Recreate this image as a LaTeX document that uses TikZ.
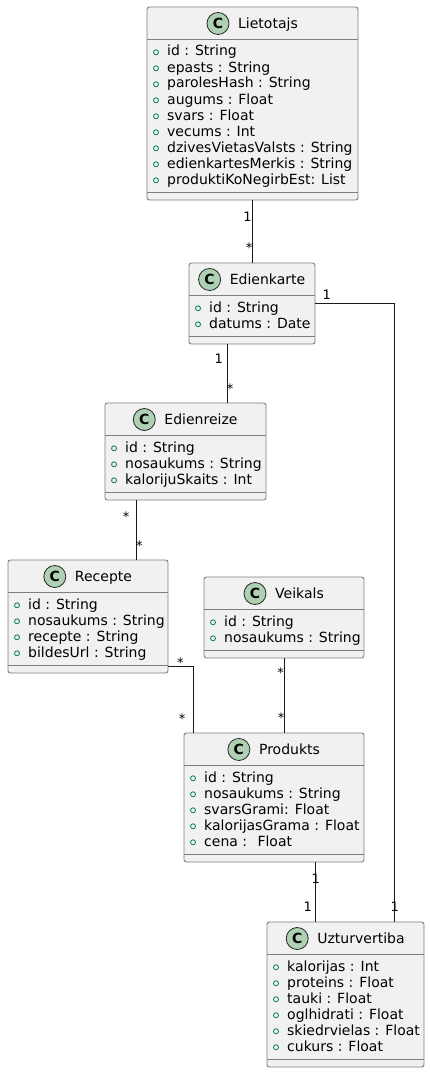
\documentclass[tikz,border=0pt]{standalone}
\usepackage{fontspec}
\setmainfont{DejaVu Sans}
\usetikzlibrary{positioning,calc}
\definecolor{cfondo}{HTML}{F1F1F1}
\definecolor{cborde}{HTML}{7F7F7F}
\definecolor{cicono}{HTML}{ADD1B2}
\definecolor{cvis}{HTML}{038048}
\tikzset{
  clase/.style={rectangle, rounded corners=2.5pt, draw=cborde, fill=cfondo,
    line width=0.9pt, inner sep=0pt, outer sep=0pt, anchor=north west},
  clsep/.style={draw=cborde, line width=0.9pt},
  icono/.style={circle, draw=black!85, fill=cicono, minimum size=22pt,
    inner sep=0pt, line width=0.8pt, font=\fontsize{14}{14}\selectfont\bfseries},
  nombre/.style={inner sep=0pt, anchor=base, font=\fontsize{14}{16}\selectfont},
  atrib/.style={inner sep=0pt, anchor=base west, font=\fontsize{14}{16}\selectfont},
  vis/.style={draw=cvis, line width=0.8pt},
  enlace/.style={draw=black!90, line width=0.9pt},
  mult/.style={inner sep=0pt, font=\fontsize{13}{13}\selectfont,
    text height=9.5pt, text depth=0pt},
}
% #1 name, #2 x, #3 y, #4 width, #5 title, #6 rows, #7 attributes
\newcommand{\klase}[7]{%
  \pgfmathsetmacro{\klh}{49+16*#6}
  \node[clase, minimum width=#4pt, minimum height=\klh pt] (#1) at (#2,#3) {};
  \draw[clsep] ([yshift=-32pt]#1.north west) -- ([yshift=-32pt]#1.north east);
  \draw[clsep] ([yshift=8pt]#1.south west) -- ([yshift=8pt]#1.south east);
  \node[nombre] (#1-nom) at ([xshift=15.5pt, yshift=-21.5pt]#1.north) {#5};
  \node[icono] (#1-ico) at ([xshift=-20pt, yshift=5pt]#1-nom.base west) {C};
  \foreach \at [count=\k] in {#7} {
    \pgfmathsetmacro{\dy}{49+16*(\k-1)}
    \node[atrib] (#1-a\k) at ([xshift=20pt, yshift=-\dy pt]#1.north west) {\at};
    \draw[vis] ([xshift=9pt, yshift=-\dy pt+3.7pt]#1.north west) circle (2.5pt);
  }
}
\begin{document}
\begin{tikzpicture}[x=1pt, y=-1pt]
  \fill[white] (0,0) rectangle (430,1073);
  \useasboundingbox (0,0) rectangle (430,1073);

  \klase{liet}{147}{7}{211}{Lietotajs}{9}{id : String, epasts : String,
    parolesHash : String, augums : Float, svars : Float, vecums : Int,
    dzivesVietasValsts : String, edienkartesMerkis : String,
    produktiKoNegirbEst: List}
  \klase{ek}{189}{263}{126}{Edienkarte}{2}{id : String, datums : Date}
  \klase{er}{105}{403}{161}{Edienreize}{3}{id : String, nosaukums : String,
    kalorijuSkaits : Int}
  \klase{rec}{8}{560}{160}{Recepte}{4}{id : String, nosaukums : String,
    recepte : String, bildesUrl : String}
  \klase{veik}{204}{577}{160}{Veikals}{2}{id : String, nosaukums : String}
  \klase{prod}{184}{733}{180}{Produkts}{5}{id : String, nosaukums : String,
    svarsGrami: Float, kalorijasGrama : Float, cena : \ Float}
  \klase{uzt}{267}{922}{157}{Uzturvertiba}{6}{kalorijas : Int, proteins : Float,
    tauki : Float, oglhidrati : Float, skiedrvielas : Float, cukurs : Float}

  \coordinate (ek-s) at ([xshift=38pt]ek.south west);
  \coordinate (er-s) at ([xshift=31pt]er.south west);
  \coordinate (rec-e) at ([yshift=7pt]rec.south east);
  \coordinate (prod-n) at ([xshift=9pt]prod.north west);
  \coordinate (prod-s) at ([xshift=131pt]prod.south west);
  \coordinate (ek-e) at ([yshift=-40pt]ek.north east);
  \coordinate (uzt-n) at ([xshift=127pt]uzt.north west);

  \draw[enlace] (liet.south) -- (liet.south |- ek.north);
  \draw[enlace] (ek-s) -- (ek-s |- er.north);
  \draw[enlace] (er-s) -- (er-s |- rec.north);
  \draw[enlace] (rec-e) -| (prod-n);
  \draw[enlace] (veik.south) -- (veik.south |- prod.north);
  \draw[enlace] (prod-s) -- (prod-s |- uzt.north);
  \draw[enlace] (ek-e) -| (uzt-n);

  \node[mult] (m1a) at (247.5,217) {1};
  \node[mult] (m1b) at (249,247.6) {*};
  \node[mult] (m2a) at (218.7,358.7) {1};
  \node[mult] (m2b) at (230,388.6) {*};
  \node[mult] (m3a) at (126,516.6) {*};
  \node[mult] (m3b) at (139.3,546) {*};
  \node[mult] (m4a) at (180.3,662.3) {*};
  \node[mult] (m4b) at (182,718.3) {*};
  \node[mult] (m5a) at (280.7,672.6) {*};
  \node[mult] (m5b) at (281,718) {*};
  \node[mult] (m6a) at (315.7,878.3) {1};
  \node[mult] (m6b) at (307.7,906.7) {1};
  \node[mult] (m7a) at (326.7,294.3) {1};
  \node[mult] (m7b) at (394.7,906.7) {1};
\end{tikzpicture}
\end{document}
